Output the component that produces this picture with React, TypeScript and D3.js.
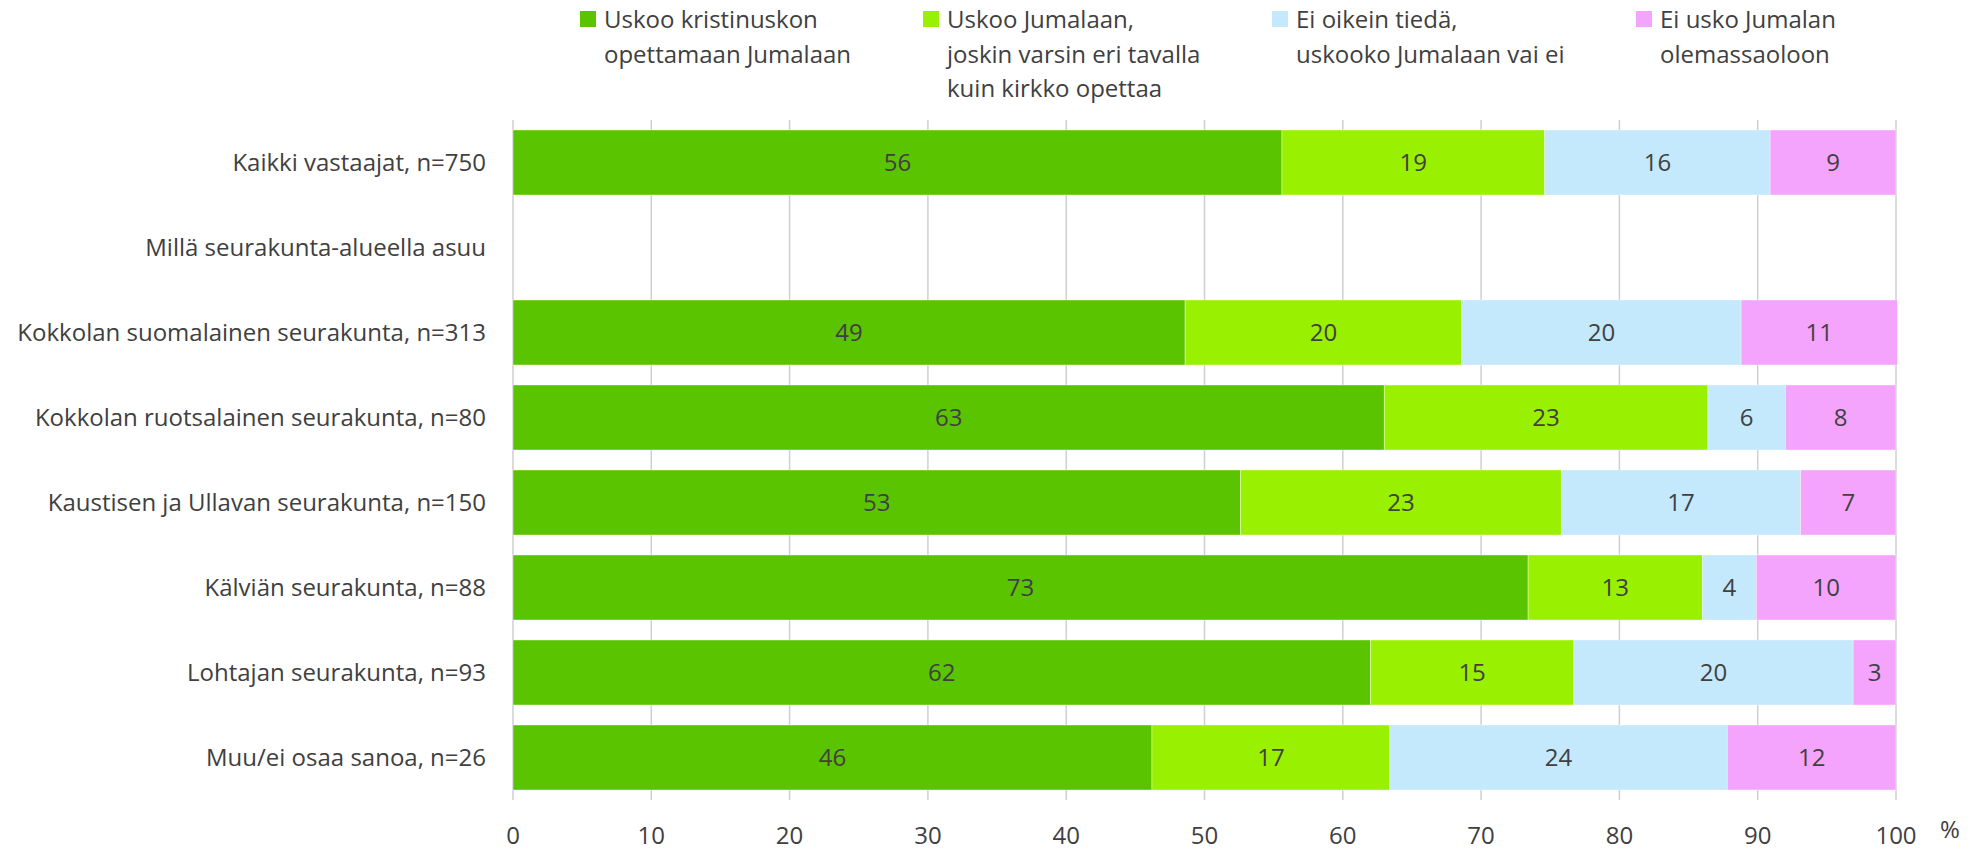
import { useEffect, useRef } from 'react'
import * as d3 from 'd3'

// Rivit (ylhäältä alas); tyhjä rivi on väliotsikko
const categories = [
  'Kaikki vastaajat, n=750',
  'Millä seurakunta-alueella asuu',
  'Kokkolan suomalainen seurakunta, n=313',
  'Kokkolan ruotsalainen seurakunta, n=80',
  'Kaustisen ja Ullavan seurakunta, n=150',
  'Kälviän seurakunta, n=88',
  'Lohtajan seurakunta, n=93',
  'Muu/ei osaa sanoa, n=26',
]

const uskooKristinuskon = [55.6, null, 48.6, 63.0, 52.6, 73.4, 62.0, 46.2]
const uskooJumalaan = [19.0, null, 20.0, 23.4, 23.2, 12.6, 14.7, 17.2]
const eiTieda = [16.3, null, 20.2, 5.6, 17.3, 3.9, 20.2, 24.4]
const eiUsko = [9.1, null, 11.3, 8.0, 6.9, 10.1, 3.1, 12.2]

const seriesNames = [
  ['Uskoo kristinuskon', 'opettamaan Jumalaan'],
  ['Uskoo Jumalaan,', 'joskin varsin eri tavalla', 'kuin kirkko opettaa'],
  ['Ei oikein tiedä,', 'uskooko Jumalaan vai ei'],
  ['Ei usko Jumalan', 'olemassaoloon'],
]
const seriesColors = ['#5bc400', '#99f000', '#c4e8fc', '#f4a4fc']
const xTicks = [0, 10, 20, 30, 40, 50, 60, 70, 80, 90, 100]

const FONT = '"Open Sans", sans-serif'
const TEXT = '#404040'
const FS = '24px'

export default function App() {
  const svgRef = useRef<SVGSVGElement>(null)

  useEffect(() => {
    if (!svgRef.current) return
    const svg = d3.select(svgRef.current)
    svg.selectAll('*').remove()

    const left = 513
    const right = 1896
    const top = 120
    const bottom = 800

    const x = d3.scaleLinear().domain([0, 100]).range([left, right])
    const y = d3.scaleBand<string>()
      .domain(categories)
      .range([top, bottom])
      .paddingInner(20 / 85)
      .paddingOuter(10 / 85)

    const allSeries = [uskooKristinuskon, uskooJumalaan, eiTieda, eiUsko]

    // gridlines
    svg.append('g')
      .selectAll('line')
      .data(xTicks)
      .enter()
      .append('line')
      .attr('x1', d => x(d))
      .attr('x2', d => x(d))
      .attr('y1', top)
      .attr('y2', bottom)
      .style('stroke', '#cfcfcf')
      .style('stroke-width', 1.5)

    // stacked segments
    const segs: { cat: string; s: number; x0: number; x1: number; v: number }[] = []
    categories.forEach((cat, i) => {
      let acc = 0
      allSeries.forEach((ser, s) => {
        const v = ser[i]
        if (v == null) return
        segs.push({ cat, s, x0: acc, x1: acc + v, v })
        acc += v
      })
    })

    const bars = svg.append('g')
    bars.selectAll('rect')
      .data(segs)
      .enter()
      .append('rect')
      .attr('x', d => x(d.x0))
      .attr('y', d => y(d.cat)!)
      .attr('width', d => x(d.x1) - x(d.x0))
      .attr('height', y.bandwidth())
      .style('fill', d => seriesColors[d.s])
      .style('stroke', '#ffffff')
      .style('stroke-opacity', 0.5)
      .style('stroke-width', 0.75)

    bars.selectAll('text')
      .data(segs)
      .enter()
      .append('text')
      .attr('x', d => (x(d.x0) + x(d.x1)) / 2)
      .attr('y', d => y(d.cat)! + y.bandwidth() / 2)
      .attr('dy', '0.36em')
      .style('text-anchor', 'middle')
      .style('font-family', FONT)
      .style('font-size', FS)
      .style('fill', TEXT)
      .text(d => d3.format('.0f')(d.v))

    // category labels
    svg.append('g')
      .selectAll('text')
      .data(categories)
      .enter()
      .append('text')
      .attr('x', 486)
      .attr('y', d => y(d)! + y.bandwidth() / 2)
      .attr('dy', '0.36em')
      .style('text-anchor', 'end')
      .style('font-family', FONT)
      .style('font-size', FS)
      .style('fill', TEXT)
      .text(d => d)

    // x tick labels
    svg.append('g')
      .selectAll('text')
      .data(xTicks)
      .enter()
      .append('text')
      .attr('x', d => x(d))
      .attr('y', 844)
      .style('text-anchor', 'middle')
      .style('font-family', FONT)
      .style('font-size', FS)
      .style('fill', TEXT)
      .text(d => d)

    svg.append('text')
      .attr('x', 1950)
      .attr('y', 838)
      .style('text-anchor', 'middle')
      .style('font-family', FONT)
      .style('font-size', FS)
      .style('fill', TEXT)
      .text('%')

    // legend
    const legendX = [580, 923, 1272, 1636]
    const legend = svg.append('g')
    seriesNames.forEach((lines, i) => {
      const g = legend.append('g').attr('transform', `translate(${legendX[i]},0)`)
      g.append('rect')
        .attr('x', 0)
        .attr('y', 11)
        .attr('width', 16)
        .attr('height', 16)
        .style('fill', seriesColors[i])
      lines.forEach((line, j) => {
        g.append('text')
          .attr('x', 24)
          .attr('y', 28 + j * 34.5)
          .style('font-family', FONT)
          .style('font-size', FS)
          .style('fill', TEXT)
          .text(line)
      })
    })
  }, [])

  return (
    <svg
      ref={svgRef}
      width={1986}
      height={850}
      style={{ position: 'absolute', left: 0, top: 0, background: '#ffffff' }}
    />
  )
}
